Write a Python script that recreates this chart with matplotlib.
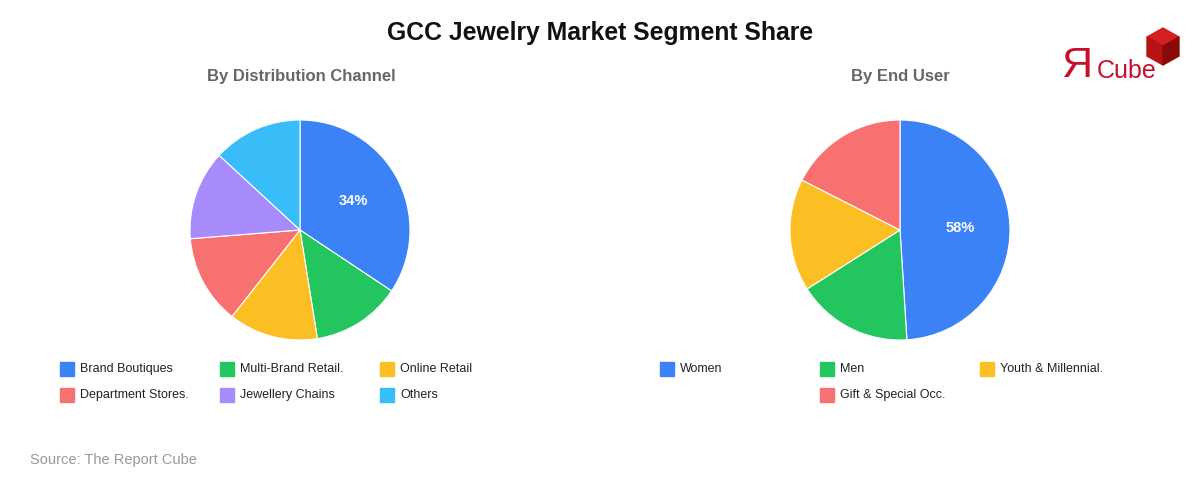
import numpy as np
import matplotlib.pyplot as plt
from matplotlib.patches import Polygon, Rectangle

plt.rcParams['font.family'] = ['Liberation Sans', 'DejaVu Sans']

# Data
channel_labels = ['Brand Boutiques', 'Multi-Brand Retail.', 'Online Retail',
                  'Department Stores.', 'Jewellery Chains', 'Others']
channel_share = [34, 13, 13, 13, 13, 13]
channel_text = ['34%', '', '', '', '', '']

user_labels = ['Women', 'Men', 'Youth & Millennial.', 'Gift & Special Occ.']
user_share = [49, 17, 16.5, 17.5]
user_text = ['58%', '', '', '']

colors = ['#3B82F6', '#22C55E', '#FBBF24', '#F87171', '#A78BFA', '#38BDF8']

W, H = 1200, 480
fig = plt.figure(figsize=(W / 100, H / 100), dpi=100)


def px(x, y):
    # pixel coords (top-left origin) -> figure fraction
    return x / W, 1 - y / H


def draw_pie(cx, cy, r, values, texts):
    ax = fig.add_axes([(cx - r) / W, (H - cy - r) / H, 2 * r / W, 2 * r / H])
    ax.pie(values, colors=colors[:len(values)], startangle=90,
           counterclock=False, radius=1,
           wedgeprops=dict(edgecolor='white', linewidth=0.8))
    total = sum(values)
    start = 0
    for v, t in zip(values, texts):
        mid = np.deg2rad(90 - (start + v / 2) / total * 360)
        start += v
        if t:
            ax.text(0.55 * np.cos(mid), 0.55 * np.sin(mid), t, color='white',
                    fontsize=10.5, fontweight='bold', ha='center', va='center')
    ax.set_xlim(-1, 1)
    ax.set_ylim(-1, 1)
    ax.set_aspect('equal')
    ax.axis('off')


def draw_legend(positions, labels):
    for (x, y), lab, col in zip(positions, labels, colors):
        fig.patches.append(Rectangle(px(x, y + 7), 14 / W, 14 / H, color=col,
                                     transform=fig.transFigure, figure=fig))
        fig.text(*px(x + 20, y), lab, fontsize=9, color='#222222', va='center')


draw_pie(300, 230, 110, channel_share, channel_text)
draw_pie(900, 230, 110, user_share, user_text)

draw_legend([(60, 369), (220, 369), (380, 369), (60, 395), (220, 395), (380, 395)],
            channel_labels)
draw_legend([(660, 369), (820, 369), (980, 369), (820, 395)], user_labels)

fig.text(*px(600, 33), 'GCC Jewelry Market Segment Share', fontsize=17.8,
         fontweight='bold', ha='center', va='center', color='#111111')
fig.text(*px(301, 77), 'By Distribution Channel', fontsize=12, fontweight='bold',
         ha='center', va='center', color='#666666')
fig.text(*px(900, 77), 'By End User', fontsize=12, fontweight='bold',
         ha='center', va='center', color='#666666')
fig.text(*px(30, 460), 'Source: The Report Cube', fontsize=10.5, color='#999999',
         va='center')

# logo
fig.text(*px(1062, 77), 'Я', fontsize=31, color='#C8102E', va='baseline')
fig.text(*px(1097, 78), 'Cube', fontsize=18, color='#C8102E', va='baseline')
top = [(1163, 28), (1179, 37), (1163, 46), (1147, 37)]
left = [(1147, 37), (1163, 46), (1163, 65), (1147, 56)]
right = [(1163, 46), (1179, 37), (1179, 56), (1163, 65)]
for face, col in [(top, '#D42020'), (left, '#B81212'), (right, '#8A0A0A')]:
    fig.patches.append(Polygon([px(x, y) for x, y in face], closed=True, color=col,
                               transform=fig.transFigure, figure=fig))

fig.savefig('out.png', dpi=100, facecolor='white')
